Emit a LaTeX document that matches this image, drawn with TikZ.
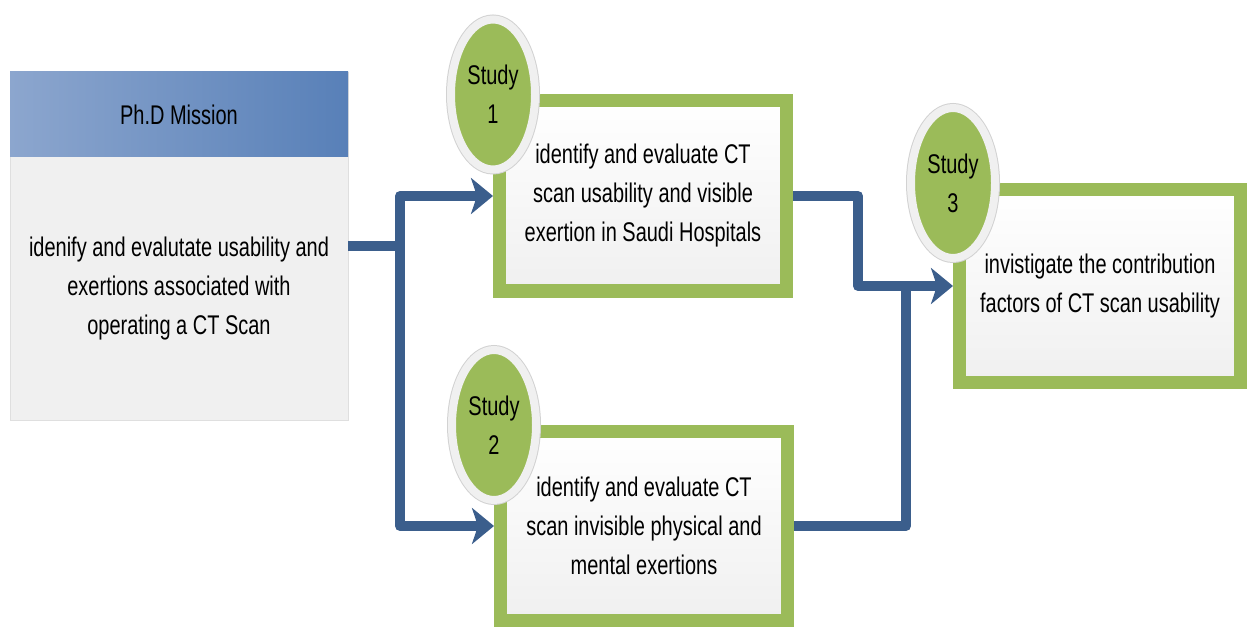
\documentclass[tikz,border=0pt]{standalone}
\usepackage{fontspec}
\newfontfamily\narrowsans[FakeStretch=0.74]{Liberation Sans}
\usetikzlibrary{arrows.meta,positioning,shapes.geometric}
\definecolor{studygreen}{RGB}{155,187,89}
\definecolor{flowblue}{RGB}{59,94,140}
\definecolor{headlight}{RGB}{140,166,206}
\definecolor{headdark}{RGB}{88,128,184}
\definecolor{missiongray}{RGB}{240,240,240}
\newcommand{\boxfont}{\narrowsans\fontsize{27}{39}\selectfont}
\tikzset{
	flow/.style={draw=flowblue, line width=10pt, line join=round},
	flowarrow/.style={flow, -{Stealth[length=22pt,width=36pt,inset=6pt]}},
	missionbox/.style={rectangle, fill=missiongray, draw=gray!25, line width=0.6pt, outer sep=0pt, inner sep=0pt, minimum width=338pt, minimum height=348pt},
	missionhead/.style={rectangle, left color=headlight, right color=headdark, outer sep=0pt, inner sep=0pt, minimum width=338pt, minimum height=85pt, font=\boxfont},
	missiontext/.style={rectangle, outer sep=0pt, inner sep=0pt, minimum width=338pt, minimum height=263pt, align=center, font=\boxfont},
	studybox/.style={rectangle, draw=studygreen, line width=13pt, top color=white, bottom color=gray!12, inner sep=0pt, align=center, font=\boxfont},
	studytag/.style={ellipse, fill=studygreen, draw=gray!12, line width=8pt, preaction={draw=gray!35, line width=10pt}, inner sep=0pt, minimum width=84pt, minimum height=150pt, align=center, font=\boxfont}
}
\begin{document}
\begin{tikzpicture}[x=1pt,y=-1pt]
	%%%%% START %%%%%
	\useasboundingbox (0,0) rectangle (1247,628);
	
	% mission
	\node[missionbox] (mission) at (179,246) {};
	\node[missionhead, anchor=north] (missionhead) at (mission.north) {Ph.D Mission};
	\node[missiontext, below=0pt of missionhead] (missiontext) {idenify and evalutate usability and\\exertions associated with\\operating a CT Scan};
	
	% studies
	\node[studybox, minimum width=287pt, minimum height=190pt] (s1box) at (643,196) {identify and evaluate CT\\scan usability and visible\\exertion in Saudi Hospitals};
	\node[studybox, minimum width=287pt, minimum height=189pt] (s2box) at (644,526) {identify and evaluate CT\\scan invisible physical and\\mental exertions};
	\node[studybox, minimum width=281pt, minimum height=193pt] (s3box) at (1100,286) {invistigate the contribution\\factors of CT scan usability};
	
	% connectors
	\draw[flow] (mission.east) -- ++(52,0) coordinate (split);
	\draw[flowarrow] (split) |- (s1box.west);
	\draw[flowarrow] (split) |- (s2box.west);
	\coordinate (merge) at ([xshift=-47pt]s3box.west);
	\draw[flow] (s2box.east) -| (merge);
	\draw[flowarrow] (s1box.east) -- ++(65,0) |- (s3box.west);
	
	% tags
	\node[studytag] (s1tag) at (s1box.north west) {Study\\1};
	\node[studytag] (s2tag) at (s2box.north west) {Study\\2};
	\node[studytag] (s3tag) at (s3box.north west) {Study\\3};
	%%%%% END %%%%%
\end{tikzpicture}
\end{document}
